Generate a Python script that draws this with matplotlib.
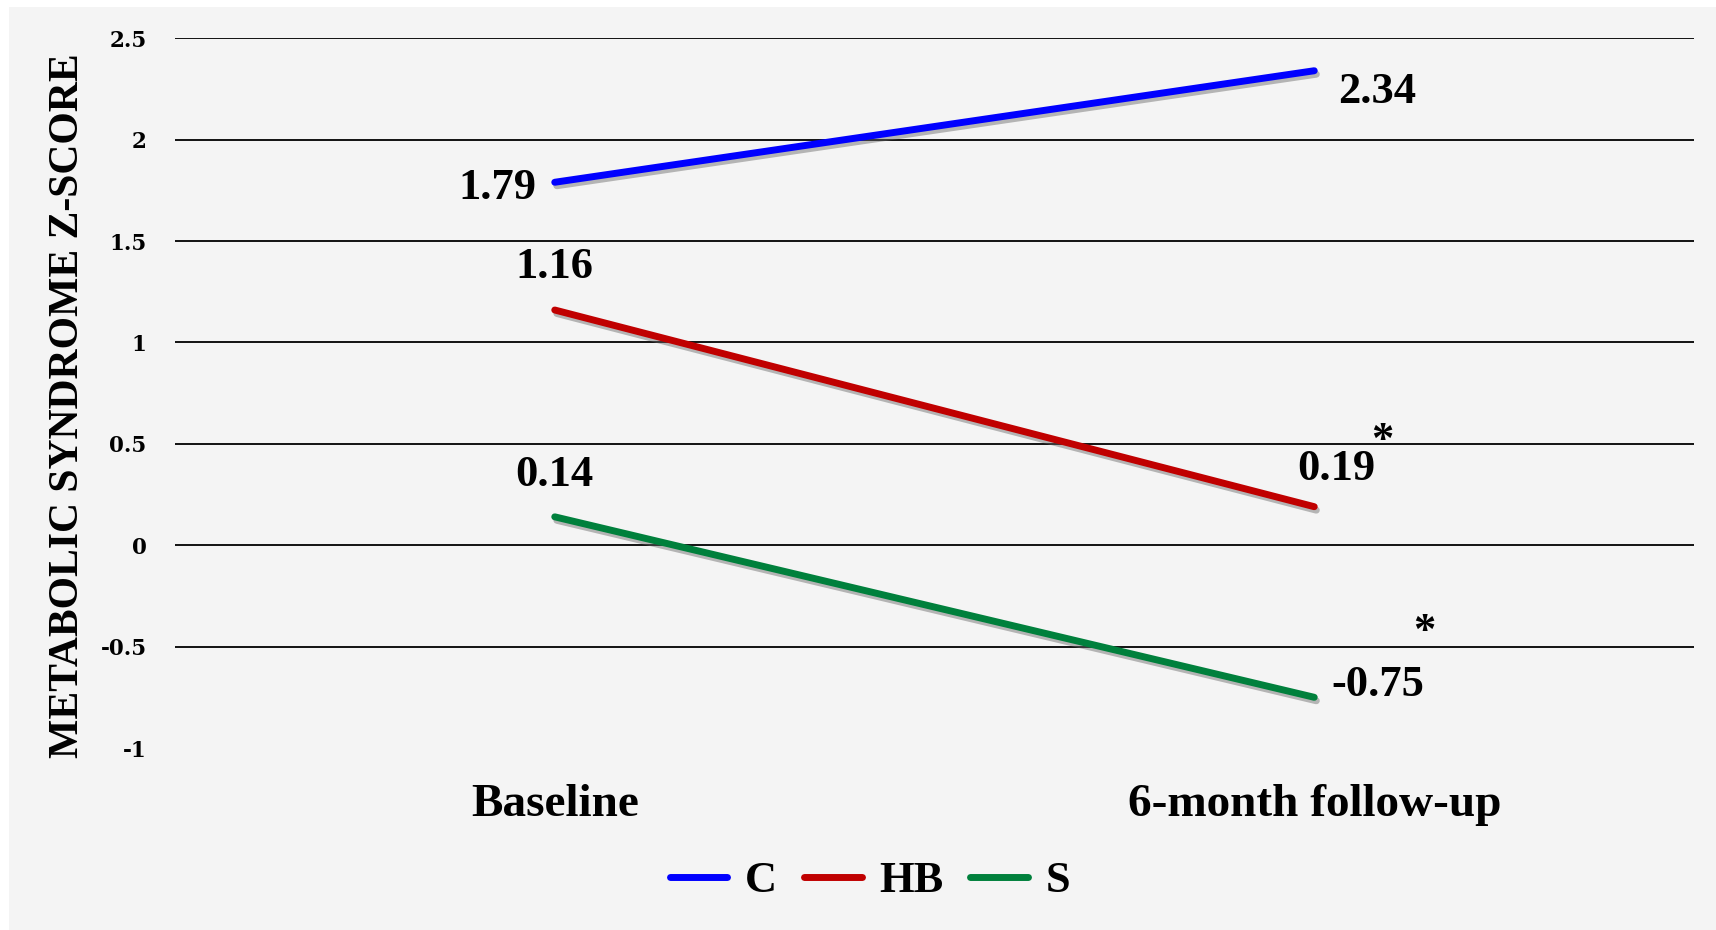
import matplotlib
matplotlib.use("Agg")
import matplotlib.pyplot as plt
import matplotlib.patheffects as pe
from matplotlib.patches import Rectangle

categories = ["Baseline", "6-month follow-up"]
series_names = ["C", "HB", "S"]
c_values = [1.79, 2.34]
hb_values = [1.16, 0.19]
s_values = [0.14, -0.75]
yticks = [-1, -0.5, 0, 0.5, 1, 1.5, 2, 2.5]
ytick_labels = ["-1", "-0.5", "0", "0.5", "1", "1.5", "2", "2.5"]
colors = ["#0000FF", "#C00000", "#00803C"]
ylabel = "METABOLIC SYNDROME Z-SCORE"

W, H = 17.16, 9.30
fig = plt.figure(figsize=(W, H), dpi=100, facecolor="white")
fig.patches.append(Rectangle((9 / 1716, 0), 1, 1 - 7 / 930, transform=fig.transFigure,
                             facecolor="#f4f4f4", edgecolor="none", zorder=-10))

ax = fig.add_axes([175 / 1716, 1 - 748 / 930, (1694 - 175) / 1716, (748 - 38.3) / 930])
ax.set_facecolor("none")
ax.set_zorder(5)
ax.set_xlim(-0.5, 1.5)
ax.set_ylim(-1, 2.5)
for s in ax.spines.values():
    s.set_visible(False)

for y in yticks:
    if y > -1:
        ax.axhline(y, color="#111111", lw=1.4, zorder=1)

serif = ["Liberation Serif", "DejaVu Serif"]
ax.set_yticks(yticks)
ax.set_yticklabels(ytick_labels, fontfamily="DejaVu Serif", fontweight="bold", fontsize=15.5)
ax.tick_params(axis="y", length=0, pad=20.5)
x = list(range(len(categories)))
ax.set_xticks(x)
ax.set_xticklabels(categories, fontfamily=serif, fontweight="bold", fontsize=34)
ax.tick_params(axis="x", length=0, pad=26)

shadow = [pe.SimpleLineShadow(offset=(1.5, -2.5), shadow_color="#666666", alpha=0.45), pe.Normal()]
lines = []
for vals, name, col in zip([c_values, hb_values, s_values], series_names, colors):
    ln, = ax.plot(x, vals, color=col, lw=5, solid_capstyle="round", label=name,
                  path_effects=shadow, zorder=3)
    lines.append(ln)

lab_kw = dict(fontfamily=serif, fontweight="bold", fontsize=32, zorder=4)
ax.annotate(f"{c_values[0]:.2f}", (x[0], c_values[0]), xytext=(-13, -4), textcoords="offset points",
            ha="right", va="center", **lab_kw)
ax.annotate(f"{c_values[1]:.2f}", (x[1], c_values[1]), xytext=(17, -15), textcoords="offset points",
            ha="left", va="center", **lab_kw)
ax.annotate(f"{hb_values[0]:.2f}", (x[0], hb_values[0]), xytext=(0, 31), textcoords="offset points",
            ha="center", va="center", **lab_kw)
ax.annotate(f"{hb_values[1]:.2f}", (x[1], hb_values[1]), xytext=(16, 27), textcoords="offset points",
            ha="center", va="center", **lab_kw)
ax.annotate(f"{s_values[0]:.2f}", (x[0], s_values[0]), xytext=(0, 30), textcoords="offset points",
            ha="center", va="center", **lab_kw)
ax.annotate(f"{s_values[1]:.2f}", (x[1], s_values[1]), xytext=(12, 9), textcoords="offset points",
            ha="left", va="center", **lab_kw)
ax.annotate("*", (x[1], hb_values[1]), xytext=(49, 47), textcoords="offset points",
            ha="center", va="center", **lab_kw)
ax.annotate("*", (x[1], s_values[1]), xytext=(79, 47), textcoords="offset points",
            ha="center", va="center", **lab_kw)

fig.text(68 / 1716, 1 - 406 / 930, ylabel, rotation=90, ha="center", va="center",
         fontfamily=serif, fontweight="bold", fontsize=30)

leg = fig.legend(handles=lines, labels=series_names, loc="center", bbox_to_anchor=(870 / 1716, 1 - 881 / 930),
                 ncol=3, frameon=False, prop=dict(family=serif, weight="bold", size=32),
                 handlelength=1.3, handletextpad=0.4, columnspacing=0.6)
for h in leg.legend_handles:
    h.set_path_effects([])
    h.set_linewidth(5)

fig.savefig("out.png", dpi=100, facecolor="white")
